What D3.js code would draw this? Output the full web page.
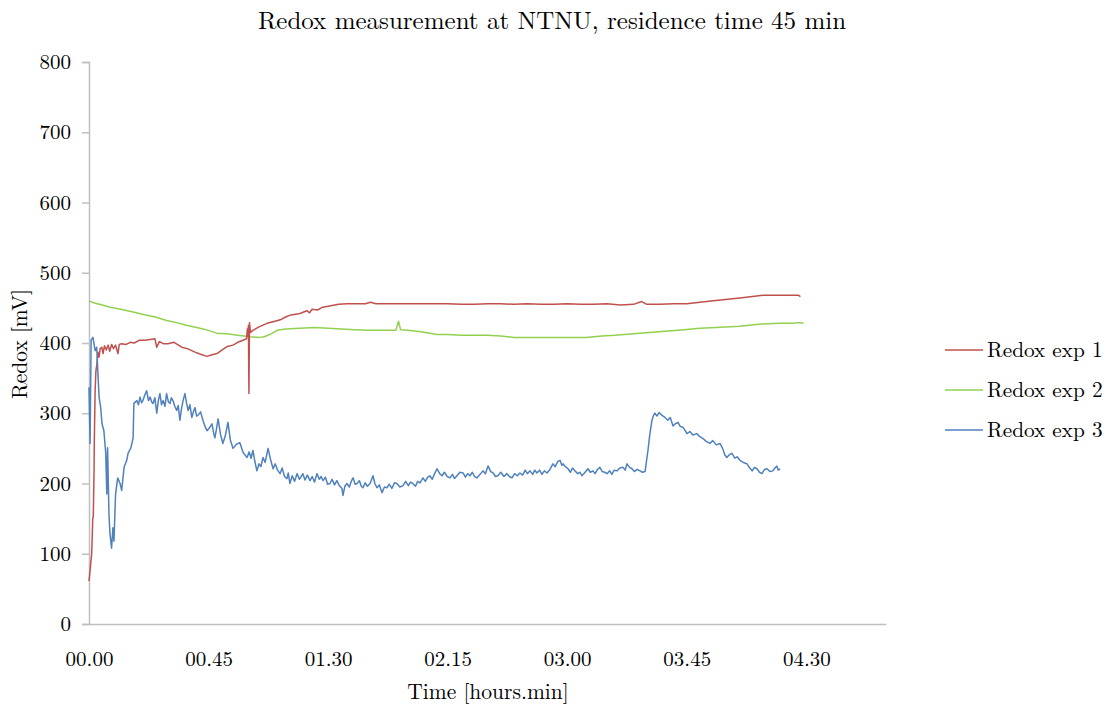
<!DOCTYPE html>
<html>
<head>
<meta charset="utf-8">
<script src="https://cdn.jsdelivr.net/npm/d3@7"></script>
<style>
  body { margin: 0; background: #fff; }
</style>
</head>
<body>
<script>
// data: [minutes since start, redox mV]
var exp1 = [[0,61],[0.5,80],[1.0,100],[1.2,122],[1.4,150],[1.6,152],[1.9,218],[2.0,260],[2.3,332],[2.6,360],[3.0,371],[3.4,387],[3.8,380],
  [4.2,392],[4.8,394],[5.3,385],[5.8,396],[6.5,390],[7.2,397],[7.8,388],[8.5,398],[9.2,392],[10,397],[10.9,385],[11.4,398],[12.3,399],
  [14,398],[15.5,401],[17,400],[19,404],[21.1,404],[23,405],[24.8,406],[25.5,394],[26.5,402],[28,399],[29.7,399],[32,401],[34.9,394],
  [37,392],[39.9,387],[42,384],[44.4,381],[46,383],[48.2,385],[50,390],[52,395],[54.2,397],[56,401],[58,404],[59.3,406],[59.6,420],
  [59.8,410],[60.0,425],[60.2,328],[60.4,429],[60.8,415],[61.7,418],[64,423],[67,428],[70,431],[72,433],[74,437],[76,440],[79.4,442],
  [82,446],[83,443],[84,448],[86,447],[88,451],[91,453],[94,455],[97,456],[100,456],[104,456],[106,458],[108,456],[112,456],[117,456],[125,456],
  [130,456],[135,456],[140,455],[145,455],[150,456],[155,456],[160,455],[165,456],[170,455],[175,455],[180,456],[185,455],[190,455],
  [195,456],[200,454],[205,455],[208,459],[210,455],[215,455],[220,456],[225,456],[235,460],[245,464],[253.7,468],[262,468],[267,468],[267.8,466]];

var exp2 = [[0,460],[2,457],[5,454],[8,451],[12,448],[16.6,444],[20,441],[25,437],[29.2,432],[33,429],[37,425],[41.8,421],[45,418],
  [48,414],[52,413],[56,411],[60.6,409],[64,408],[66,409],[68,412],[70.8,418],[74,420],[79.4,421],[85,422],[90,421],[95,420],[100,419],
  [105,418],[110,418],[115.5,418],[116.5,431],[117.3,419],[120,418],[125,416],[131,412],[135,412],[140,411],[150,411],[155,410],[160,408],
  [167,408],[175,408],[180,408],[187,408],[193,410],[198,411],[205,413],[211,415],[218,417],[224,419],[230,421],[236,422],[245,424],
  [253,427],[260,428],[265,428],[267,429],[269,428]];

var exp3 = [[0,337],[0.4,257],[0.8,404],[1.5,408],[2.3,389],[2.9,394],[3.3,361],[3.8,323],[4.4,308],[4.9,285],[5.6,275],[6.3,243],
  [6.7,185],[7.0,251],[7.5,157],[7.9,128],[8.5,108],[9.0,137],[9.4,118],[10.0,185],[10.8,208],[11.7,200],[12.3,190],[13.2,223],
  [14.2,233],[14.7,243],[15.8,251],[16.6,265],[16.9,314],[18.0,318],[18.6,312],[19.2,323],[19.8,315],[20.3,318],[21.0,326],[21.7,332],
  [22.4,318],[23.0,323],[23.6,316],[24.1,314],[24.8,322],[25.5,300],[26.1,318],[26.7,328],[27.3,312],[27.9,318],[28.6,310],[29.2,328],
  [29.9,316],[30.5,314],[31.0,322],[31.6,318],[32.3,310],[33.0,304],[33.6,311],[34.2,290],[34.8,306],[35.4,318],[36.1,328],[36.7,315],
  [37.3,304],[38.0,312],[38.7,294],[39.3,302],[39.9,308],[40.5,296],[41.0,297],[42.0,302],[42.9,290],[43.6,282],[44.4,275],[45.3,279],
  [46.3,285],[46.9,272],[47.4,265],[48.0,278],[48.6,292],[49.5,270],[50.4,257],[51.3,268],[52.3,287],[53.2,262],[54.2,250],[55.5,256],
  [56.8,258],[58.0,244],[59.5,237],[60.3,245],[61.0,236],[61.7,247],[62.4,232],[63.2,218],[64.0,228],[64.7,224],[65.5,237],[66.3,230],
  [67.4,250],[68.2,236],[69.3,221],[70.1,228],[71.0,219],[71.9,214],[72.7,222],[73.6,210],[74.5,207],[75.0,215],[75.6,200],[76.5,211],
  [77.4,203],[78.3,214],[79.2,206],[80.5,214],[81.3,205],[82.2,212],[83.2,204],[84.0,210],[84.9,202],[85.8,214],[86.7,206],[87.4,210],
  [88.1,204],[89.0,209],[89.8,199],[90.7,200],[91.5,206],[92.4,198],[93.3,204],[94.2,197],[95.2,193],[95.6,183],[96.3,196],[97.1,200],
  [98.0,195],[98.7,203],[99.4,208],[100.2,199],[100.9,200],[101.8,204],[102.5,196],[103.1,194],[104.0,201],[104.8,196],[105.8,200],
  [106.9,211],[107.6,200],[108.4,194],[109.3,198],[110.3,187],[111.2,195],[112.2,194],[113.0,199],[114.0,193],[115.0,201],[115.9,200],
  [117.0,195],[118.2,197],[119.2,203],[120.2,197],[121.0,202],[121.9,200],[122.9,196],[123.7,203],[124.6,201],[125.7,208],[126.6,203],
  [127.5,209],[128.3,211],[129.2,206],[130.1,214],[131.0,221],[132.0,214],[132.9,211],[133.8,216],[134.8,210],[135.9,208],[136.8,213],
  [137.6,207],[138.5,211],[139.6,216],[140.8,215],[141.7,209],[142.5,214],[143.4,211],[144.3,216],[145.1,210],[146.0,208],[147.2,213],
  [148.3,218],[149.2,214],[150.2,225],[151.2,217],[152.1,215],[153.0,210],[153.9,211],[155.0,216],[156.2,210],[157.3,214],[158.2,210],
  [159.2,208],[160.2,214],[161.2,211],[162.2,215],[163.2,212],[164.2,219],[165.0,214],[166.0,218],[167.0,213],[167.8,219],[168.6,215],
  [169.6,219],[170.5,213],[171.4,218],[172.4,215],[173.5,220],[174.6,228],[175.5,224],[176.4,231],[177.3,233],[178.0,226],[178.4,228],
  [179.3,224],[180.3,221],[181.2,216],[182.0,222],[182.9,218],[184.0,214],[184.8,216],[185.5,211],[186.5,215],[187.8,221],[188.7,216],
  [189.7,218],[190.5,214],[191.4,220],[192.3,223],[193.2,217],[194.1,216],[195.0,214],[196.0,218],[196.8,213],[197.7,219],[198.7,218],
  [199.8,222],[201.0,223],[201.8,219],[202.5,228],[203.5,223],[204.4,221],[205.3,217],[206.3,220],[207.4,218],[208.3,216],[209.3,217],
  [210.4,247],[211.1,270],[211.9,290],[212.5,297],[213.0,300],[213.8,296],[214.6,301],[215.7,297],[216.8,294],[217.9,290],[218.8,294],
  [219.8,282],[220.7,285],[221.7,287],[222.6,281],[223.6,280],[224.3,276],[225.1,271],[226.2,274],[227.3,269],[228.8,271],[229.8,267],
  [231.1,264],[232.3,260],[233.7,257],[234.8,261],[236.1,255],[237.5,257],[238.5,250],[239.3,241],[240.1,237],[241.0,241],[242.0,243],
  [243.1,236],[244.0,238],[245.0,233],[246.3,230],[247.7,228],[248.7,222],[249.6,218],[250.5,223],[251.4,221],[252.4,216],[253.3,214],
  [254.3,220],[255.2,221],[256.3,217],[257.4,218],[258.2,222],[258.9,225],[259.5,219],[260.1,221]];

var seriesNames = ['Redox exp 1', 'Redox exp 2', 'Redox exp 3'];
var seriesColors = ['#c0504d', '#92d050', '#4f81bd'];
var xTicks = [0, 45, 90, 135, 180, 225, 270];   // minutes
var yTicks = [0, 100, 200, 300, 400, 500, 600, 700, 800];

var serif = "'Latin Modern Roman', 'Liberation Serif', serif";

var svg = d3.select('body').append('svg')
            .attr('width', 1110)
            .attr('height', 709);

var x = d3.scaleLinear().domain([0, 300]).range([89, 886]);
var y = d3.scaleLinear().domain([0, 800]).range([624, 62]);

var fmt = function(m) {
  return d3.format('02')(Math.floor(m / 60)) + '.' + d3.format('02')(m % 60);
};

svg.append('text')
   .attr('x', 552).attr('y', 29)
   .attr('text-anchor', 'middle')
   .style('font-family', serif)
   .style('font-size', '25px')
   .text('Redox measurement at NTNU, residence time 45 min');

// y axis
var yAxis = svg.append('g')
               .attr('transform', 'translate(89,0)')
               .call(d3.axisLeft(y).tickValues(yTicks).tickSize(7).tickPadding(11).tickFormat(d3.format('d')));
yAxis.select('.domain').attr('stroke', '#bfbfbf').attr('stroke-width', 1.5);
yAxis.selectAll('.tick line').attr('stroke', '#bfbfbf').attr('stroke-width', 1.5);
yAxis.selectAll('text').style('font-family', serif).style('font-size', '21px').attr('fill', '#000');

// x axis, no tick marks
var xAxis = svg.append('g')
               .attr('transform', 'translate(0,624)')
               .call(d3.axisBottom(x).tickValues(xTicks).tickSize(0).tickPadding(27).tickFormat(fmt));
xAxis.select('.domain').attr('stroke', '#bfbfbf').attr('stroke-width', 1.5);
xAxis.selectAll('text').style('font-family', serif).style('font-size', '21px').attr('fill', '#000');

svg.append('text')
   .attr('x', 488).attr('y', 699)
   .attr('text-anchor', 'middle')
   .style('font-family', serif)
   .style('font-size', '21.5px')
   .text('Time [hours.min]');

svg.append('text')
   .attr('transform', 'translate(27,344) rotate(-90)')
   .attr('text-anchor', 'middle')
   .style('font-family', serif)
   .style('font-size', '21.5px')
   .text('Redox [mV]');

var line = d3.line()
             .x(function(d) { return x(d[0]); })
             .y(function(d) { return y(d[1]); });

var allSeries = [exp1, exp2, exp3];
// draw green first, then red, blue on top
[1, 0, 2].forEach(function(i) {
  svg.append('path')
     .datum(allSeries[i])
     .attr('fill', 'none')
     .attr('stroke', seriesColors[i])
     .attr('stroke-width', 1.5)
     .attr('stroke-linejoin', 'round')
     .attr('d', line);
});

// legend
var legend = svg.append('g');
seriesNames.forEach(function(name, i) {
  var ly = 350 + i * 40;
  legend.append('line')
        .attr('x1', 945).attr('x2', 983)
        .attr('y1', ly).attr('y2', ly)
        .attr('stroke', seriesColors[i])
        .attr('stroke-width', 1.5);
  legend.append('text')
        .attr('x', 987).attr('y', ly + 7)
        .style('font-family', serif)
        .style('font-size', '21.3px')
        .text(name);
});
</script>
</body>
</html>
